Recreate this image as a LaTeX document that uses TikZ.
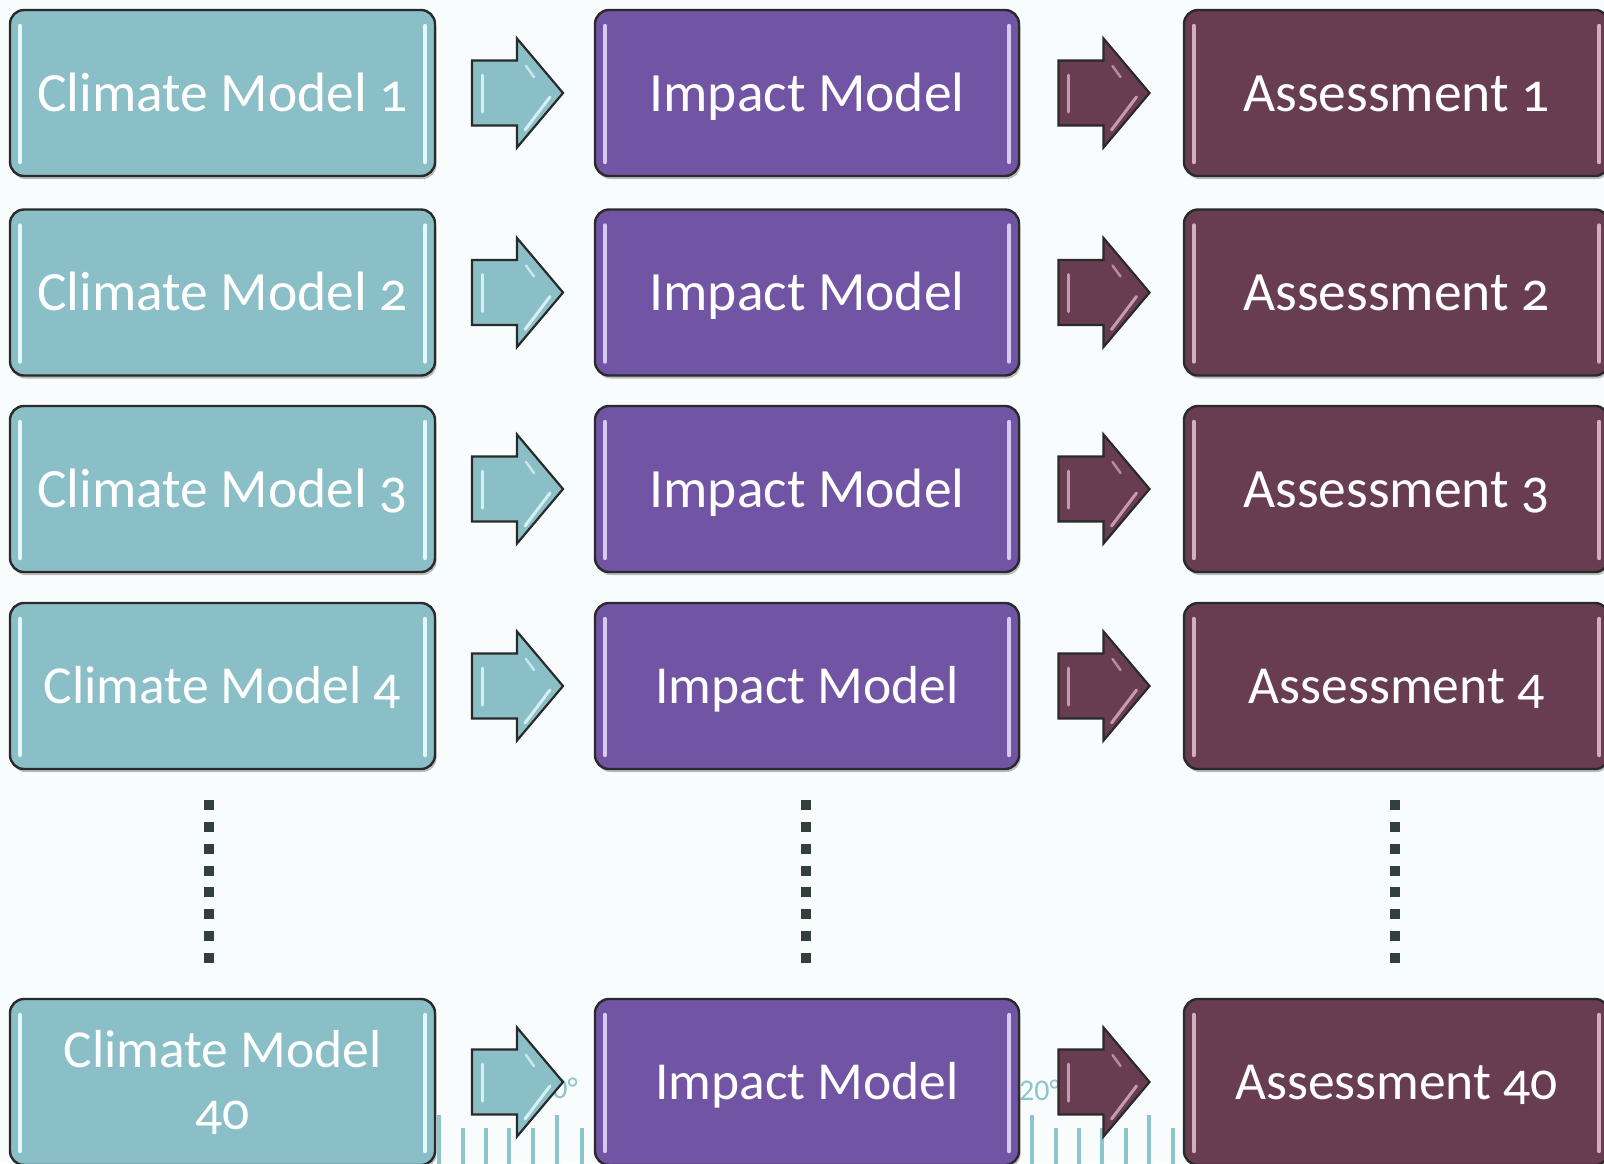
\documentclass[tikz,border=0pt]{standalone}
\usepackage{fontspec}
\setmainfont{Carlito}[Numbers=OldStyle]
\newfontfamily\degfont{Carlito}
\usetikzlibrary{calc,shadows}
\definecolor{bgc}{HTML}{F8FCFD}
\definecolor{tealc}{HTML}{8BBFC8}
\definecolor{tealh}{HTML}{E2F8FA}
\definecolor{purc}{HTML}{7155A4}
\definecolor{purh}{HTML}{D6C9F2}
\definecolor{marc}{HTML}{683D51}
\definecolor{marh}{HTML}{D6ADBF}
\definecolor{bordc}{HTML}{2A2A2A}
\definecolor{dotc}{HTML}{333F3B}
\definecolor{tickc}{HTML}{8DC5CC}
\tikzset{
  card/.style={draw=bordc, line width=2.4pt, rounded corners=14pt, minimum height=166pt,
    text=white, inner sep=0pt, align=center,
    drop shadow={shadow xshift=1.5pt, shadow yshift=-3pt, fill=black, opacity=0.25}},
  bigtxt/.style={font=\fontsize{55.5}{62}\selectfont, text height=36pt, text depth=0pt},
  smalltxt/.style={font=\fontsize{53.5}{62}\selectfont, text height=34.5pt, text depth=0pt},
  colA/.style={card, fill=tealc, minimum width=425pt},
  colB/.style={card, fill=purc, minimum width=424pt},
  colC/.style={card, fill=marc, minimum width=425pt},
  glintline/.style={line width=4pt, line cap=round},
  barrow/.style={draw=bordc, line width=2.2pt, line join=miter},
  dotline/.style={draw=dotc, line width=10pt, dash pattern=on 10pt off 11.86pt},
  tickline/.style={draw=tickc, line width=3.5pt},
  degtxt/.style={text=tickc, font=\degfont\fontsize{30}{30}\selectfont, inner sep=0pt}
}
\newcommand\glint[2]{%
  \draw[glintline,#2] ([xshift=11pt,yshift=-17pt]#1.north west) -- ([xshift=11pt,yshift=15pt]#1.south west);
  \draw[glintline,#2] ([xshift=-11pt,yshift=-17pt]#1.north east) -- ([xshift=-11pt,yshift=15pt]#1.south east);
}
\newcommand\blockarrow[4]{%
  \coordinate (m#1) at ($(#1.east)!0.5!(#2.west)$);
  \begin{scope}[shift={(m#1)}]
    \draw[barrow, fill=#3] (-43,-32.5) -- (2,-32.5) -- (2,-54.5) -- (48,0) -- (2,54.5) -- (2,32.5) -- (-43,32.5) -- cycle;
    \draw[line width=3pt, line cap=round, #4, opacity=0.85] (-33,-18) -- (-33,19);
    \draw[line width=2.5pt, line cap=round, #4, opacity=0.7] (11,-27) -- (19,-16);
    \draw[line width=3pt, line cap=round, #4, opacity=0.85] (10,37) -- (35,4);
  \end{scope}}
\begin{document}
\begin{tikzpicture}[x=1pt, y=-1pt]
\useasboundingbox (0,0) rectangle (1604,1163);
\clip (0,0) rectangle (1604,1163);
\fill[bgc] (0,0) rectangle (1604,1163);
% faint background ruler remnants
\foreach \x/\t in {439/1115, 463/1128, 486/1128, 509/1128, 533/1128, 557/1115, 582/1128,
                   1032/1115, 1056/1128, 1079/1128, 1102/1128, 1126/1128, 1149/1115, 1173/1128}
  \draw[tickline] (\x,\t) -- (\x,1165);
\node[degtxt, anchor=base east] (degA) at (578,1098) {0°};
\node[degtxt, anchor=base west] (degB) at (1019,1100) {20°};
% boxes
\node[colA,bigtxt] (cm1) at (222.5,93) {Climate Model 1};
\node[colB,bigtxt] (im1) at (807,93) {Impact Model};
\node[colC,bigtxt] (as1) at (1396.5,93) {Assessment 1};
\node[colA,bigtxt] (cm2) at (222.5,292.5) {Climate Model 2};
\node[colB,bigtxt] (im2) at (807,292.5) {Impact Model};
\node[colC,bigtxt] (as2) at (1396.5,292.5) {Assessment 2};
\node[colA,bigtxt] (cm3) at (222.5,489) {Climate Model 3};
\node[colB,bigtxt] (im3) at (807,489) {Impact Model};
\node[colC,bigtxt] (as3) at (1396.5,489) {Assessment 3};
\node[colA,smalltxt] (cm4) at (222.5,686) {Climate Model 4};
\node[colB,smalltxt] (im4) at (807,686) {Impact Model};
\node[colC,smalltxt] (as4) at (1396.5,686) {Assessment 4};
\node[colA,font=\fontsize{53.5}{62}\selectfont] (cm5) at (222.5,1082) {Climate Model\\40};
\node[colB,smalltxt] (im5) at (807,1082) {Impact Model};
\node[colC,smalltxt] (as5) at (1396.5,1082) {Assessment 40};
\foreach \n in {cm1,cm2,cm3,cm4,cm5} {\glint{\n}{tealh}}
\foreach \n in {im1,im2,im3,im4,im5} {\glint{\n}{purh}}
\foreach \n in {as1,as2,as3,as4,as5} {\glint{\n}{marh}}
% arrows
\blockarrow{cm1}{im1}{tealc}{tealh}
\blockarrow{cm2}{im2}{tealc}{tealh}
\blockarrow{cm3}{im3}{tealc}{tealh}
\blockarrow{cm4}{im4}{tealc}{tealh}
\blockarrow{cm5}{im5}{tealc}{tealh}
\blockarrow{im1}{as1}{marc}{marh}
\blockarrow{im2}{as2}{marc}{marh}
\blockarrow{im3}{as3}{marc}{marh}
\blockarrow{im4}{as4}{marc}{marh}
\blockarrow{im5}{as5}{marc}{marh}
% ellipsis dots
\coordinate (dA1) at (209,800); \coordinate (dA2) at (209,963);
\coordinate (dB1) at (806,800); \coordinate (dB2) at (806,963);
\coordinate (dC1) at (1395,800); \coordinate (dC2) at (1395,963);
\draw[dotline] (dA1) -- (dA2);
\draw[dotline] (dB1) -- (dB2);
\draw[dotline] (dC1) -- (dC2);
\end{tikzpicture}
\end{document}
